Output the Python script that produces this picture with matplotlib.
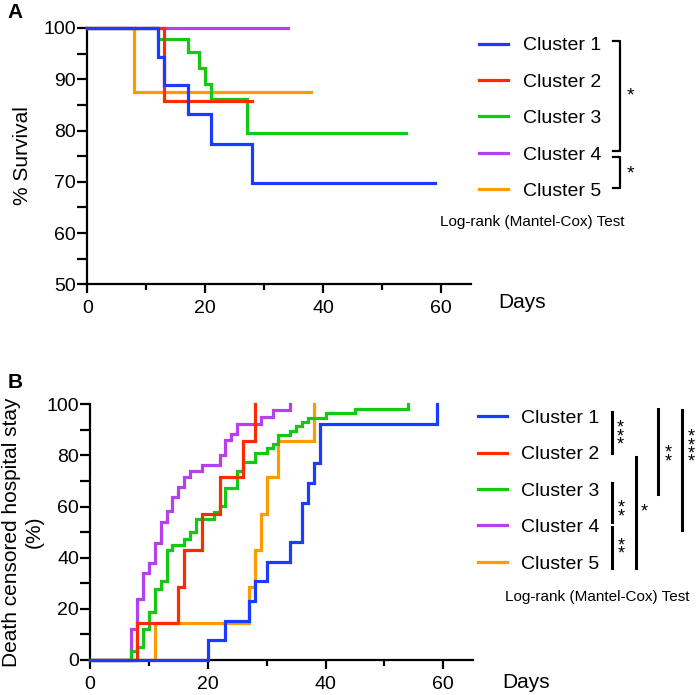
import matplotlib
matplotlib.use('Agg')
import matplotlib.pyplot as plt
from matplotlib.lines import Line2D
from matplotlib.ticker import MultipleLocator

plt.rcParams['font.family'] = ['Liberation Sans', 'DejaVu Sans']

W, H = 696, 695

clusters = ['Cluster 1', 'Cluster 2', 'Cluster 3', 'Cluster 4', 'Cluster 5']
colors = ['#1a3cff', '#ff2a00', '#14c814', '#b540ec', '#ff9a00']

# Panel A - % survival (Kaplan-Meier steps)
a_days_c1 = [0, 12, 13, 17, 21, 28, 59]
a_surv_c1 = [100, 94.4, 88.9, 83.3, 77.4, 69.7, 69.7]
a_days_c2 = [0, 13, 28]
a_surv_c2 = [100, 85.7, 85.7]
a_days_c3 = [0, 12, 17, 19, 20, 21, 27, 54]
a_surv_c3 = [100, 97.9, 95.3, 92.1, 89.1, 86.1, 79.6, 79.6]
a_days_c4 = [0, 34]
a_surv_c4 = [100, 100]
a_days_c5 = [0, 8, 38]
a_surv_c5 = [100, 87.5, 87.5]

# Panel B - death censored hospital stay (%)
b_days_c1 = [0, 20, 23, 27, 28, 30, 34, 36, 37, 38, 39, 59]
b_pct_c1 = [0, 7.7, 15.4, 23.1, 30.8, 38.5, 46.2, 61.5, 69.2, 76.9, 92.3, 100]
b_days_c2 = [0, 8, 15, 16, 19, 22, 26, 28]
b_pct_c2 = [0, 14.3, 28.6, 42.9, 57.1, 71.4, 85.7, 100]
b_days_c3 = [0, 7, 8, 9, 10, 11, 12, 13, 14, 16, 17, 18, 21, 22, 23, 25, 26,
             28, 30, 31, 32, 34, 35, 36, 37, 40, 45, 54]
b_pct_c3 = [0, 3.4, 5.2, 12.1, 18.9, 27.6, 31.0, 43.1, 44.8, 47.4, 50.0, 55.2,
            57.8, 60.3, 67.2, 74.1, 77.6, 81.0, 82.8, 84.5, 87.9, 89.7, 91.4,
            93.1, 94.8, 96.6, 98.3, 100]
b_days_c4 = [0, 7, 8, 9, 10, 11, 12, 13, 14, 15, 16, 17, 19, 22, 23, 24, 25,
             29, 31, 34]
b_pct_c4 = [0, 12.3, 23.9, 34.0, 37.8, 45.6, 54.1, 58.1, 63.9, 67.8, 71.7,
            74.0, 76.1, 80.2, 86.0, 88.3, 92.3, 95.1, 97.7, 100]
b_days_c5 = [0, 11, 27, 28, 29, 30, 32, 38]
b_pct_c5 = [0, 14.3, 28.6, 42.9, 57.1, 71.4, 85.7, 100]

a_days = [a_days_c1, a_days_c2, a_days_c3, a_days_c4, a_days_c5]
a_vals = [a_surv_c1, a_surv_c2, a_surv_c3, a_surv_c4, a_surv_c5]
b_days = [b_days_c1, b_days_c2, b_days_c3, b_days_c4, b_days_c5]
b_vals = [b_pct_c1, b_pct_c2, b_pct_c3, b_pct_c4, b_pct_c5]


def fx(px):
    return px / W


def fy(py):
    return 1 - py / H


def style_axes(ax, ylim, ymajor, yminor):
    ax.set_xlim(0, 65)
    ax.set_ylim(*ylim)
    for s in ['top', 'right']:
        ax.spines[s].set_visible(False)
    for s in ['left', 'bottom']:
        ax.spines[s].set_linewidth(1.6)
    ax.xaxis.set_major_locator(MultipleLocator(20))
    ax.xaxis.set_minor_locator(MultipleLocator(10))
    ax.yaxis.set_major_locator(MultipleLocator(ymajor))
    ax.yaxis.set_minor_locator(MultipleLocator(yminor))
    ax.tick_params(axis='x', which='major', length=6.5, width=1.6, pad=5, labelsize=14)
    ax.tick_params(axis='x', which='minor', length=4, width=1.6)
    ax.tick_params(axis='y', which='both', length=7, width=1.6, pad=1, labelsize=14)


def draw_panel(ax, days, vals):
    handles = []
    # cluster 1 ends up on top
    for i in range(4, -1, -1):
        ln, = ax.plot(days[i], vals[i], drawstyle='steps-post', color=colors[i],
                      lw=2.3, clip_on=False, zorder=3 + (5 - i) * 0.1,
                      solid_joinstyle='miter')
        handles.insert(0, ln)
    return handles


fig = plt.figure(figsize=(W / 100, H / 100), dpi=100)

# ---- Panel A ----
axA = fig.add_axes([fx(87.3), fy(284.3), fx(383.4), 256.3 / H])
style_axes(axA, (50, 100), 10, 5)
hA = draw_panel(axA, a_days, a_vals)
axA.legend(hA, clusters, loc='center left', bbox_to_anchor=(fx(479), fy(118.5)),
           bbox_transform=fig.transFigure, frameon=False, fontsize=14,
           handlelength=1.5, handletextpad=0.75, labelspacing=0.97,
           borderpad=0, borderaxespad=0)
fig.text(fx(23), fy(156), '% Survival', rotation=90, ha='center', va='center', fontsize=15)
fig.text(fx(498), fy(302), 'Days', ha='left', va='center', fontsize=15)
fig.text(fx(440), fy(222), 'Log-rank (Mantel-Cox) Test', ha='left', va='center', fontsize=11)
fig.text(fx(15), fy(12.5), 'A', ha='center', va='center', fontsize=15, fontweight='bold')

# significance brackets A
for y0, y1 in [(40.7, 151), (156.7, 188.3)]:
    fig.add_artist(Line2D([fx(613), fx(620), fx(620), fx(613)],
                          [fy(y0), fy(y0), fy(y1), fy(y1)],
                          transform=fig.transFigure, color='black', lw=1.6))
fig.text(fx(630), fy(96), '*', ha='center', va='center', fontsize=14)
fig.text(fx(630), fy(174), '*', ha='center', va='center', fontsize=14)

# ---- Panel B ----
axB = fig.add_axes([fx(90), fy(660), fx(382.8), 255.7 / H])
style_axes(axB, (0, 100), 20, 10)
hB = draw_panel(axB, b_days, b_vals)
axB.legend(hB, clusters, loc='center left', bbox_to_anchor=(fx(477.7), fy(491)),
           bbox_transform=fig.transFigure, frameon=False, fontsize=14,
           handlelength=1.5, handletextpad=0.75, labelspacing=0.97,
           borderpad=0, borderaxespad=0)
fig.text(fx(23), fy(532), 'Death censored hospital stay\n(%)', rotation=90,
         ha='center', va='center', multialignment='center', fontsize=15, linespacing=1.25)
fig.text(fx(502), fy(682), 'Days', ha='left', va='center', fontsize=15)
fig.text(fx(505), fy(597), 'Log-rank (Mantel-Cox) Test', ha='left', va='center', fontsize=11)
fig.text(fx(15), fy(383), 'B', ha='center', va='center', fontsize=15, fontweight='bold')

# significance lines B: (x, y top, y bottom, stars, star x, star y)
sig_b = [(611.7, 411.7, 453.3, 3, 620, 432.5),
         (611.7, 483.3, 521.7, 2, 621.7, 508.3),
         (611.7, 526.7, 568.3, 2, 621.7, 546),
         (636, 456.7, 568.3, 1, 644.3, 508.3),
         (658.3, 409.3, 494.3, 2, 668.3, 453.3),
         (682.3, 410, 530, 4, 691, 445.8)]
for x, yt, yb, n, sx, sy in sig_b:
    fig.add_artist(Line2D([fx(x), fx(x)], [fy(yt), fy(yb)],
                          transform=fig.transFigure, color='black', lw=2.2))
    # stars stacked vertically
    fig.text(fx(sx), fy(sy + 4), '\n'.join(['*'] * n), ha='center', va='center',
             multialignment='center', fontsize=13, linespacing=0.34)

fig.savefig('out.png', dpi=100)
